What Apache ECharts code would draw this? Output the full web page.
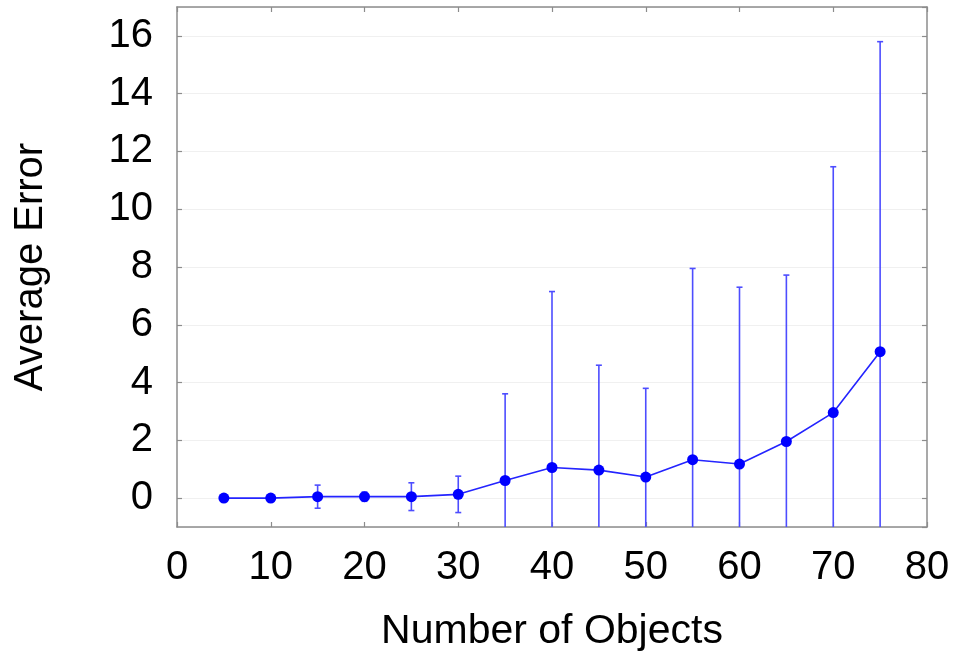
<!DOCTYPE html>
<html>
<head>
<meta charset="utf-8">
<script src="https://cdn.jsdelivr.net/npm/echarts@6/dist/echarts.min.js"></script>
<style>
html,body{margin:0;padding:0;background:#fff;}
#chart{width:964px;height:662px;}
</style>
</head>
<body>
<div id="chart"></div>
<script>
var numObjects = [5, 10, 15, 20, 25, 30, 35, 40, 45, 50, 55, 60, 65, 70, 75];
var avgError   = [0, 0, 0.05, 0.05, 0.05, 0.13, 0.61, 1.06, 0.97, 0.73, 1.33, 1.18, 1.96, 2.96, 5.07];
var stdError   = [0, 0, 0.40, 0.16, 0.48, 0.63, 3.00, 6.09, 3.63, 3.07, 6.62, 6.12, 5.76, 8.51, 10.73];
var xTitle = 'Number of Objects';
var yTitle = 'Average Error';

var lineData = numObjects.map(function (x, i) { return [x, avgError[i]]; });
var errData = numObjects.map(function (x, i) { return [x, avgError[i] - stdError[i], avgError[i] + stdError[i]]; });

var FONT = '"Liberation Sans", Arial, Helvetica, sans-serif';
var axisGray = '#8c8c8c';
var errColor = '#4d4dff';

function renderErr(params, api) {
  var x = api.value(0), lo = api.value(1), hi = api.value(2);
  if (hi - lo <= 0) return null;
  var pLo = api.coord([x, lo]);
  var pHi = api.coord([x, hi]);
  var w = 3;
  var st = { stroke: errColor, lineWidth: 1.6 };
  return {
    type: 'group',
    children: [
      { type: 'line', shape: { x1: pHi[0], y1: pHi[1], x2: pLo[0], y2: pLo[1] }, style: st },
      { type: 'line', shape: { x1: pHi[0] - w, y1: pHi[1], x2: pHi[0] + w, y2: pHi[1] }, style: st },
      { type: 'line', shape: { x1: pLo[0] - w, y1: pLo[1], x2: pLo[0] + w, y2: pLo[1] }, style: st }
    ]
  };
}

var chart = echarts.init(document.getElementById('chart'), null, { renderer: 'canvas' });
var axisLineStyle = { show: true, onZero: false, lineStyle: { color: axisGray, width: 1.5 } };
var tickStyle = { show: true, inside: true, length: 5, lineStyle: { color: axisGray, width: 1.2 } };

chart.setOption({
  animation: false,
  backgroundColor: '#ffffff',
  grid: { left: 177, right: 37, top: 7, bottom: 135, containLabel: false },
  xAxis: [{
    type: 'value', min: 0, max: 80, interval: 10, position: 'bottom',
    name: xTitle, nameLocation: 'middle', nameGap: 84,
    nameTextStyle: { fontFamily: FONT, fontSize: 41, color: '#000' },
    axisLine: axisLineStyle, axisTick: tickStyle,
    axisLabel: { fontFamily: FONT, fontSize: 40, color: '#000', margin: 21 },
    splitLine: { show: false }
  }, {
    type: 'value', min: 0, max: 80, interval: 10, position: 'top',
    axisLine: axisLineStyle, axisTick: tickStyle,
    axisLabel: { show: false }, splitLine: { show: false }
  }],
  yAxis: [{
    type: 'value', min: -1, max: 17, splitNumber: 9, position: 'left',
    name: yTitle, nameLocation: 'middle', nameGap: 126, nameRotate: 90,
    nameTextStyle: { fontFamily: FONT, fontSize: 40, color: '#000' },
    axisLine: axisLineStyle, axisTick: tickStyle,
    axisLabel: { fontFamily: FONT, fontSize: 40, color: '#000', margin: 24, showMinLabel: false, showMaxLabel: false },
    splitLine: { show: true, lineStyle: { color: '#f0f0f0', width: 1 } }
  }, {
    type: 'value', min: -1, max: 17, splitNumber: 9, position: 'right',
    axisLine: axisLineStyle, axisTick: tickStyle,
    axisLabel: { show: false }, splitLine: { show: false }
  }],
  series: [{
    type: 'custom',
    renderItem: renderErr,
    data: errData,
    encode: { x: 0, y: [1, 2] },
    clip: true,
    z: 2
  }, {
    type: 'line',
    data: lineData,
    symbol: 'circle',
    symbolSize: 11,
    itemStyle: { color: '#0000ff' },
    lineStyle: { color: '#2424ff', width: 1.6 },
    clip: true,
    z: 3
  }]
});
</script>
</body>
</html>
